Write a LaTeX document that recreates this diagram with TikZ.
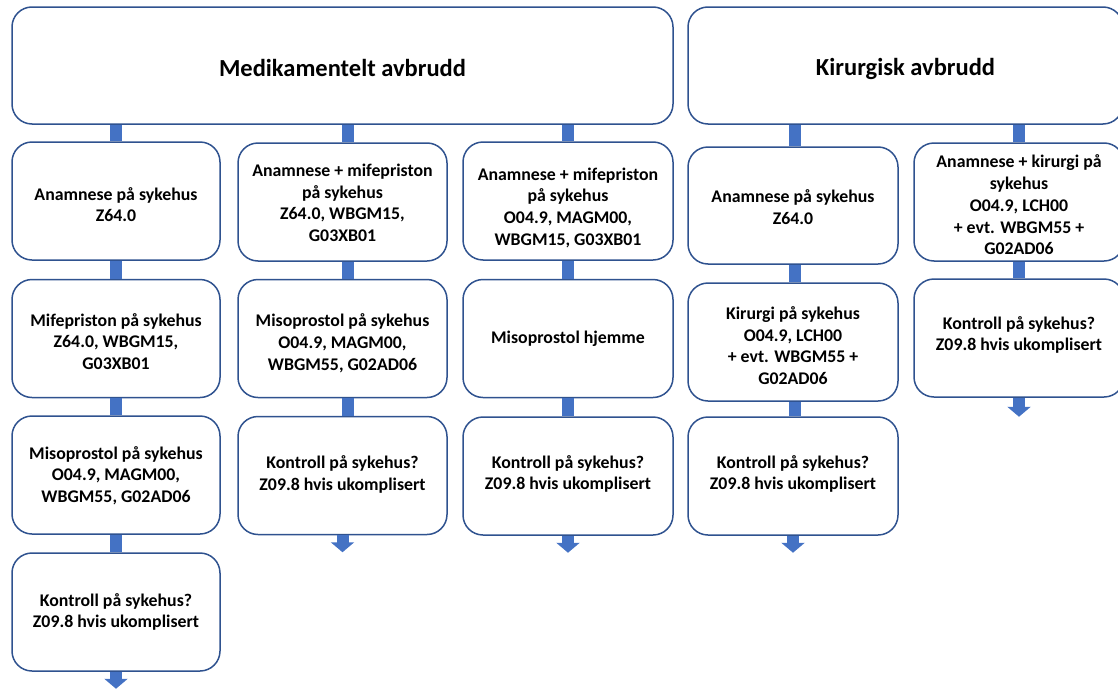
\documentclass[tikz,border=0pt]{standalone}
\usepackage{fontspec}
\setmainfont{Carlito}
\usetikzlibrary{arrows.meta}
\definecolor{boxline}{HTML}{2F528F}
\definecolor{barblue}{HTML}{4472C4}
\tikzset{
  stepbox/.style={draw=boxline,line width=1.5pt,rounded corners=20pt,fill=white,
    minimum width=209pt,minimum height=118pt,inner sep=0pt},
  steptext/.style={align=center,inner sep=0pt,
    font=\bfseries\fontsize{17.8}{21.7}\selectfont\rule[-3.2pt]{0pt}{21.7pt}},
  headtext/.style={steptext,font=\bfseries\fontsize{24.5}{29}\selectfont\rule[-4pt]{0pt}{29pt}},
  bar/.style={draw=barblue,line width=12pt},
  endbar/.style={bar,-{Triangle[width=23pt,length=10pt]}}
}
\begin{document}
\begin{tikzpicture}[x=1pt,y=-1pt]
            \useasboundingbox (0,0) rectangle (1118,688);
            \node[stepbox,minimum width=661pt,minimum height=117pt] (med) at (342.5,65.5) {};
            \node[stepbox,minimum width=435pt,minimum height=117pt] (kir) at (905.5,65.5) {};
            \node[stepbox,minimum width=208pt] (m1a) at (116,201) {};
            \node[stepbox,minimum width=208pt] (m1b) at (116,338.5) {};
            \node[stepbox,minimum width=208pt] (m1c) at (116,475) {};
            \node[stepbox,minimum width=208pt] (m1d) at (116,612) {};
            \node[stepbox] (m2a) at (342.5,202) {};
            \node[stepbox] (m2b) at (342.5,338.5) {};
            \node[stepbox] (m2c) at (342.5,475.5) {};
            \node[stepbox,minimum width=210pt] (m3a) at (568,201) {};
            \node[stepbox,minimum width=210pt] (m3b) at (568,338.5) {};
            \node[stepbox,minimum width=210pt] (m3c) at (568,476) {};
            \node[stepbox,minimum width=210pt,minimum height=117pt] (k1a) at (793,205.5) {};
            \node[stepbox,minimum width=210pt] (k1b) at (793,342) {};
            \node[stepbox,minimum width=210pt] (k1c) at (793,476) {};
            \node[stepbox,minimum width=210pt] (k2a) at (1019,202) {};
            \node[stepbox,minimum width=210pt] (k2b) at (1019,338) {};
            \node[headtext] (medt) at (342.5,65.5) {Medikamentelt avbrudd};
            \node[headtext] (kirt) at (905.5,65.5) {Kirurgisk avbrudd};
            \node[steptext] (m1at) at (116,206) {Anamnese på sykehus\\Z64.0};
            \node[steptext] (m1bt) at (116,343) {Mifepriston på sykehus\\Z64.0, WBGM15,\\G03XB01};
            \node[steptext] (m1ct) at (116,476) {Misoprostol på sykehus\\O04.9, MAGM00,\\WBGM55, G02AD06};
            \node[steptext] (m1dt) at (116,612) {Kontroll på sykehus?\\Z09.8 hvis ukomplisert};
            \node[steptext] (m2at) at (342.5,204.5) {Anamnese + mifepriston\\på sykehus\\Z64.0, WBGM15,\\G03XB01};
            \node[steptext] (m2bt) at (342.5,343.5) {Misoprostol på sykehus\\O04.9, MAGM00,\\WBGM55, G02AD06};
            \node[steptext] (m2ct) at (342.5,474.5) {Kontroll på sykehus?\\Z09.8 hvis ukomplisert};
            \node[steptext] (m3at) at (568,208) {Anamnese + mifepriston\\på sykehus\\O04.9, MAGM00,\\WBGM15, G03XB01};
            \node[steptext] (m3bt) at (568,335.5) {Misoprostol hjemme};
            \node[steptext] (m3ct) at (568,474) {Kontroll på sykehus?\\Z09.8 hvis ukomplisert};
            \node[steptext] (k1at) at (793,208.5) {Anamnese på sykehus\\Z64.0};
            \node[steptext] (k1bt) at (793,347) {Kirurgi på sykehus\\O04.9, LCH00\\+ evt. WBGM55 +\\G02AD06};
            \node[steptext] (k1ct) at (793,474) {Kontroll på sykehus?\\Z09.8 hvis ukomplisert};
            \node[steptext] (k2at) at (1019,206.5) {Anamnese + kirurgi på\\sykehus\\O04.9, LCH00\\+ evt. WBGM55 +\\G02AD06};
            \node[steptext] (k2bt) at (1019,335) {Kontroll på sykehus?\\Z09.8 hvis ukomplisert};
            \coordinate (m1end) at ([yshift=-17pt]m1d.south);
            \coordinate (m2end) at ([yshift=-17pt]m2c.south);
            \coordinate (m3end) at ([yshift=-17pt]m3c.south);
            \coordinate (k1end) at ([yshift=-17pt]k1c.south);
            \coordinate (k2end) at ([yshift=-19pt]k2b.south);
            \draw[bar] (med.south -| m1a.north) -- (m1a.north);
            \draw[bar] (m1a.south) -- (m1b.north);
            \draw[bar] (m1b.south) -- (m1c.north);
            \draw[bar] (m1c.south) -- (m1d.north);
            \draw[endbar] (m1d.south) -- (m1end);
            \draw[bar] ([xshift=5pt]med.south -| m2a.north) -- ([xshift=5pt]m2a.north);
            \draw[bar] ([xshift=5pt]m2a.south) -- ([xshift=5pt]m2b.north);
            \draw[bar] ([xshift=5pt]m2b.south) -- ([xshift=5pt]m2c.north);
            \draw[endbar] (m2c.south) -- (m2end);
            \draw[bar] (med.south -| m3a.north) -- (m3a.north);
            \draw[bar] (m3a.south) -- (m3b.north);
            \draw[bar] (m3b.south) -- (m3c.north);
            \draw[endbar] (m3c.south) -- (m3end);
            \draw[bar] ([xshift=2pt]kir.south -| k1a.north) -- ([xshift=2pt]k1a.north);
            \draw[bar] ([xshift=2pt]k1a.south) -- ([xshift=2pt]k1b.north);
            \draw[bar] ([xshift=2pt]k1b.south) -- ([xshift=2pt]k1c.north);
            \draw[endbar] (k1c.south) -- (k1end);
            \draw[bar] (kir.south -| k2a.north) -- (k2a.north);
            \draw[bar] (k2a.south) -- (k2b.north);
            \draw[endbar] (k2b.south) -- (k2end);
        \end{tikzpicture}
\end{document}
